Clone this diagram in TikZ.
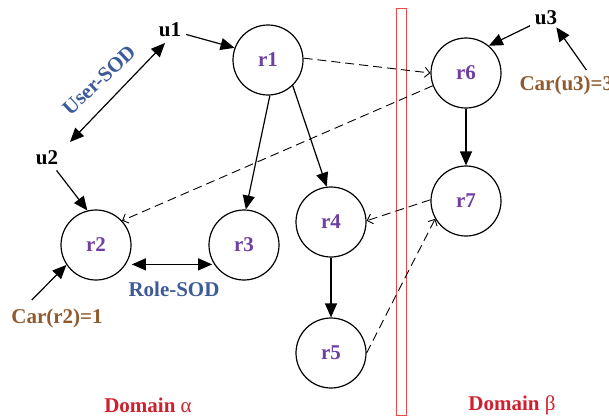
\documentclass[tikz,border=0pt]{standalone}
\usepackage{fontspec}
\setmainfont{Liberation Serif}
\usetikzlibrary{arrows.meta,calc}
\definecolor{rolecol}{HTML}{6E3FA3}
\definecolor{sodblue}{HTML}{3D5A99}
\definecolor{carbrown}{HTML}{8E5A2E}
\definecolor{domred}{HTML}{D02030}
\definecolor{borderred}{HTML}{F04848}
\begin{document}
\begin{tikzpicture}[x=1pt,y=-1pt,
  every node/.style={font=\fontsize{21}{25}\selectfont\bfseries},
  role/.style={circle,draw,line width=1.2pt,minimum size=70pt,inner sep=0pt,text=rolecol},
  user/.style={inner sep=2pt},
  solidarrow/.style={line width=1.2pt,-{Triangle[length=14pt,width=12pt]}},
  dblarrow/.style={line width=1.2pt,{Triangle[length=14pt,width=12pt]}-{Triangle[length=14pt,width=12pt]}},
  dasharrow/.style={line width=0.9pt,dash pattern=on 9pt off 5pt,-{Straight Barb[length=5pt,width=10pt]}},
  domainline/.style={draw=borderred,line width=1pt},
]
\clip (0,0) rectangle (609,418);
\useasboundingbox (0,0) rectangle (609,418);

% domain separator
\draw[domainline] (396,8) rectangle (406,415);

% roles
\node[role] (r1) at (268,60) {r1};
\node[role] (r2) at (96,245) {r2};
\node[role] (r3) at (244,245) {r3};
\node[role] (r4) at (331,222) {r4};
\node[role] (r5) at (331,353) {r5};
\node[role] (r6) at (466,73) {r6};
\node[role] (r7) at (466,201) {r7};

% users
\node[user] (u1) at (170,30) {u1};
\node[user] (u2) at (47,158) {u2};
\node[user] (u3) at (546,18) {u3};

% labels
\node[text=carbrown] (car2) at (57,318) {Car(r2)=1};
\node[text=carbrown,anchor=west] (car3) at (516,85) {Car(u3)=3};
\node[text=sodblue] (rolesod) at (174,289) {Role-SOD};
\node[text=sodblue,rotate=43] (usersod) at (99,80) {User-SOD};
\node[text=domred] (doma) at (148,405) {Domain {\mdseries α}};
\node[text=domred] (domb) at (512,405) {Domain {\mdseries β}};

% assignments and constraints
\draw[solidarrow,shorten <=3pt] (u1) -- (r1.160);
\draw[dblarrow] ($(u1)+(-5,13)$) -- ($(u2)+(23,-16)$);
\draw[solidarrow,shorten <=4pt] (u2) -- (r2.104);
\draw[solidarrow] ($(car2.north west)+(24,-5)$) -- (r2.214);
\draw[dblarrow,shorten <=6pt,shorten >=2pt] (r2.-33) -- (r3.213);
\draw[solidarrow,shorten <=3pt] (u3) -- (r6.50);
\draw[solidarrow] ($(car3.north)+(20,-2)$) -- ($(u3.south east)+(-3,0)$);

% hierarchy
\draw[solidarrow] (r1.-87) -- (r3.87);
\draw[solidarrow] (r1.-46) -- (r4.97);
\draw[solidarrow] (r4.south) -- (r5.north);
\draw[solidarrow] (r6.south) -- (r7.north);

% inter-domain mappings
\draw[dasharrow] (r1.3) -- (r6.180);
\draw[dasharrow] (r6.201) -- (r2.43);
\draw[dasharrow] (r7.178) -- (r4.2);
\draw[dasharrow] (r5.0) -- (r7.210);
\end{tikzpicture}
\end{document}
